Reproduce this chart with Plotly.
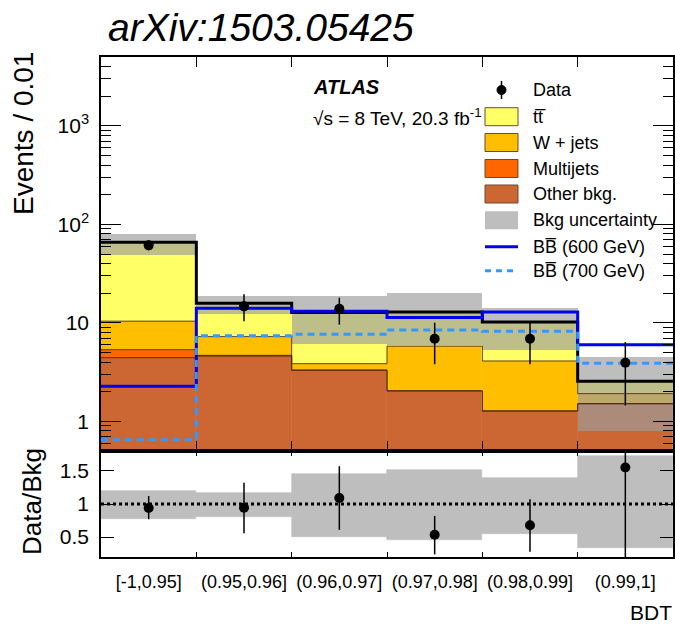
import numpy as np
import plotly.graph_objects as go

# ---------------- data ----------------
bin_labels = ["[-1,0.95]", "(0.95,0.96]", "(0.96,0.97]", "(0.97,0.98]", "(0.98,0.99]", "(0.99,1]"]

other_bkg = [4.43, 4.60, 3.30, 2.03, 1.27, 1.51]
multijets = [0.91, 0.08, 0.02, 0.02, 0.01, 0.00]
wjets = [5.06, 2.57, 0.53, 3.75, 2.82, 0.40]
ttbar = [55.3, 8.55, 8.85, 7.10, 6.10, 0.64]

bkg_unc_lo = [49.2, 12.2, 6.05, 5.9, 5.25, 0.80]
bkg_unc_hi = [80.5, 18.6, 18.9, 20.0, 14.3, 4.5]

bb600 = [2.27, 14.1, 13.1, 11.3, 12.9, 6.0]
bb700 = [0.65, 7.4, 7.64, 8.45, 8.2, 3.9]

data = [61.2, 14.7, 13.9, 6.9, 6.9, 3.94]
data_err_up = [7.6, 4.8, 4.1, 3.15, 3.15, 2.44]
data_err_dn = [6.7, 4.3, 4.3, 3.10, 3.10, 2.49]

ratio = [0.94, 0.945, 1.09, 0.535, 0.68, 1.55]
ratio_err_up = [0.18, 0.375, 0.48, 0.285, 0.39, 1.00]
ratio_err_dn = [0.17, 0.385, 0.48, 0.295, 0.40, 1.45]
ratio_unc_lo = [0.78, 0.81, 0.50, 0.46, 0.545, 0.34]
ratio_unc_hi = [1.20, 1.16, 1.46, 1.52, 1.39, 1.73]

# ---------------- helpers ----------------
W, H = 675, 625
FONT = "Liberation Sans, Arial, Helvetica, sans-serif"


def px(x):
    return x / W


def py(y):
    return 1 - y / H


centers = np.arange(len(bin_labels)) + 0.5
edges = np.arange(len(bin_labels) + 1)


def step(vals):
    v = list(vals)
    return v + [v[-1]]


components = [
    ("Other bkg.", other_bkg, "#CC6633"),
    ("Multijets", multijets, "#FF6600"),
    ("W + jets", wjets, "#FFBF00"),
    ("tt", ttbar, "#FFFF66"),
]

fig = go.Figure()

# stacked background fills
base = np.zeros(len(bin_labels))
tops = []
for name, vals, col in components:
    vals = np.array(vals, dtype=float)
    fig.add_trace(go.Bar(
        x=centers, y=vals, base=base if base.any() else None, width=1.0,
        marker=dict(color=col, line=dict(color=col, width=0.6)),
        xaxis="x", yaxis="y", showlegend=False, hoverinfo="skip"))
    base = base + vals
    tops.append(base.copy())

total = base

# thin outlines of each stacked component
for t in tops[:-1]:
    fig.add_trace(go.Scatter(
        x=edges, y=step(t), mode="lines", line_shape="hv",
        line=dict(color="rgba(70,35,10,0.85)", width=1),
        xaxis="x", yaxis="y", showlegend=False, hoverinfo="skip"))

# background uncertainty band
lo = np.array(bkg_unc_lo)
hi = np.array(bkg_unc_hi)
fig.add_trace(go.Bar(
    x=centers, y=hi - lo, base=lo, width=1.0,
    marker=dict(color="rgba(158,158,158,0.67)", line=dict(width=0)),
    xaxis="x", yaxis="y", showlegend=False, hoverinfo="skip"))

# total background
fig.add_trace(go.Scatter(
    x=edges, y=step(total), mode="lines", line_shape="hv",
    line=dict(color="black", width=3),
    xaxis="x", yaxis="y", showlegend=False, hoverinfo="skip"))

# signal hypotheses
fig.add_trace(go.Scatter(
    x=edges, y=step(bb600), mode="lines", line_shape="hv",
    line=dict(color="#0000EE", width=3),
    xaxis="x", yaxis="y", showlegend=False, hoverinfo="skip"))
fig.add_trace(go.Scatter(
    x=edges, y=step(bb700), mode="lines", line_shape="hv",
    line=dict(color="#3399FF", width=3, dash="7px,5px"),
    xaxis="x", yaxis="y", showlegend=False, hoverinfo="skip"))

# data
fig.add_trace(go.Scatter(
    x=centers, y=data, mode="markers",
    marker=dict(color="black", size=10),
    error_y=dict(type="data", symmetric=False, array=data_err_up,
                 arrayminus=data_err_dn, width=0, thickness=1.5, color="black"),
    xaxis="x", yaxis="y", showlegend=False, hoverinfo="skip"))

# ---------------- ratio panel ----------------
rlo = np.array(ratio_unc_lo)
rhi = np.array(ratio_unc_hi)
fig.add_trace(go.Bar(
    x=centers, y=rhi - rlo, base=rlo, width=1.0,
    marker=dict(color="#BEBEBE", line=dict(color="#BEBEBE", width=0.6)),
    xaxis="x2", yaxis="y2", showlegend=False, hoverinfo="skip"))
fig.add_trace(go.Scatter(
    x=[0, 6], y=[1, 1], mode="lines",
    line=dict(color="black", width=3, dash="dot"),
    xaxis="x2", yaxis="y2", showlegend=False, hoverinfo="skip"))
fig.add_trace(go.Scatter(
    x=centers, y=ratio, mode="markers",
    marker=dict(color="black", size=10),
    error_y=dict(type="data", symmetric=False, array=ratio_err_up,
                 arrayminus=ratio_err_dn, width=0, thickness=1.5, color="black"),
    xaxis="x2", yaxis="y2", showlegend=False, hoverinfo="skip", cliponaxis=True))

# ---------------- axes ----------------
xdom = [px(101), px(673)]
minor_vals = [0.5, 0.6, 0.7, 0.8, 0.9] + [m * 10 ** e for e in range(0, 4)
                                          for m in range(2, 10) if m * 10 ** e <= 5000]
axis_common = dict(showline=True, linecolor="black", linewidth=1.5,
                   mirror="allticks", showgrid=False, zeroline=False,
                   tickcolor="black", tickwidth=1)

fig.update_layout(
    width=W, height=H,
    margin=dict(l=0, r=0, t=0, b=0),
    paper_bgcolor="white", plot_bgcolor="white",
    barmode="overlay", bargap=0,
    font=dict(family=FONT, color="black"),
    xaxis=dict(domain=xdom, anchor="y", range=[0, 6], tickmode="array",
               tickvals=list(edges[1:-1]), ticks="inside", ticklen=10,
               showticklabels=False, **axis_common),
    yaxis=dict(domain=[py(451), py(57)], anchor="x", type="log",
               range=[np.log10(0.5), np.log10(5000)], tickmode="array",
               tickvals=[1, 10, 100, 1000],
               ticktext=["1", "10", "10<sup>2</sup>", "10<sup>3</sup>"],
               ticks="inside", ticklen=20, tickfont=dict(size=21),
               ticklabelstandoff=6,
               minor=dict(tickmode="array", tickvals=minor_vals, ticks="inside",
                          ticklen=10, tickcolor="black", tickwidth=1),
               **axis_common),
    xaxis2=dict(domain=xdom, anchor="y2", range=[0, 6], tickmode="array",
                tickvals=list(centers), ticktext=bin_labels, ticks="",
                tickfont=dict(size=18), ticklabelstandoff=8,
                minor=dict(tickmode="array", tickvals=list(edges[1:-1]),
                           ticks="inside", ticklen=5, tickcolor="black", tickwidth=1),
                **axis_common),
    yaxis2=dict(domain=[py(557), py(451)], anchor="x2", range=[0.2, 1.8],
                tickmode="array", tickvals=[0.5, 1, 1.5],
                ticktext=["0.5", "1", "1.5"], ticks="inside", ticklen=13,
                tickfont=dict(size=21), ticklabelstandoff=6,
                **axis_common),
)

# ---------------- text ----------------
ann = []
ann.append(dict(text="<i>arXiv:1503.05425</i>", x=px(106), y=py(27),
                xanchor="left", yanchor="middle", font=dict(size=39)))
ann.append(dict(text="Events / 0.01", x=px(23), y=py(134), textangle=-90,
                xanchor="center", yanchor="middle", font=dict(size=28)))
ann.append(dict(text="Data/Bkg", x=px(32), y=py(502), textangle=-90,
                xanchor="center", yanchor="middle", font=dict(size=26)))
ann.append(dict(text="BDT", x=px(674), y=py(612), xanchor="right",
                yanchor="middle", font=dict(size=21)))
ann.append(dict(text="<b><i>ATLAS</i></b>", x=px(311), y=py(87),
                xanchor="left", yanchor="middle", font=dict(size=20)))
ann.append(dict(text="\u221As = 8 TeV, 20.3 fb<sup>-1</sup>", x=px(311), y=py(117),
                xanchor="left", yanchor="middle", font=dict(size=19)))

# legend
shapes = []
lx0, lx1, ltx = 485, 518, 531
leg_rows = [
    ("Data", 90, "data", None),
    ("tt\u0305", 116.7, "box", "#FFFF66"),
    ("W + jets", 142.5, "box", "#FFBF00"),
    ("Multijets", 168.5, "box", "#FF6600"),
    ("Other bkg.", 194, "box", "#CC6633"),
    ("Bkg uncertainty", 220.3, "unc", "#BEBEBE"),
    ("BB\u0305 (600 GeV)", 246.7, "line", "#0000EE"),
    ("BB\u0305 (700 GeV)", 270.7, "dash", "#3399FF"),
]
for label, yc, kind, col in leg_rows:
    ann.append(dict(text=label, x=px(ltx), y=py(yc), xanchor="left",
                    yanchor="middle", font=dict(size=18)))
    if kind == "data":
        cx = (lx0 + lx1) / 2
        shapes.append(dict(type="line", xref="paper", yref="paper",
                           x0=px(cx), x1=px(cx), y0=py(yc - 9), y1=py(yc + 9),
                           line=dict(color="black", width=1.5)))
        shapes.append(dict(type="circle", xref="paper", yref="paper",
                           x0=px(cx - 4.5), x1=px(cx + 4.5), y0=py(yc - 4.5),
                           y1=py(yc + 4.5), fillcolor="black",
                           line=dict(color="black", width=1)))
    elif kind == "box":
        shapes.append(dict(type="rect", xref="paper", yref="paper",
                           x0=px(lx0), x1=px(lx1), y0=py(yc - 9), y1=py(yc + 9),
                           fillcolor=col, line=dict(color="#6b4a30", width=1)))
    elif kind == "unc":
        shapes.append(dict(type="rect", xref="paper", yref="paper",
                           x0=px(lx0), x1=px(lx1), y0=py(yc - 9), y1=py(yc + 9),
                           fillcolor=col, line=dict(width=0)))
    else:
        shapes.append(dict(type="line", xref="paper", yref="paper",
                           x0=px(lx0), x1=px(lx1), y0=py(yc), y1=py(yc),
                           line=dict(color=col, width=3,
                                     dash="solid" if kind == "line" else "6px,5px")))

for a in ann:
    a.update(xref="paper", yref="paper", showarrow=False)
fig.update_layout(annotations=ann, shapes=shapes)

fig.write_html("out.html")
